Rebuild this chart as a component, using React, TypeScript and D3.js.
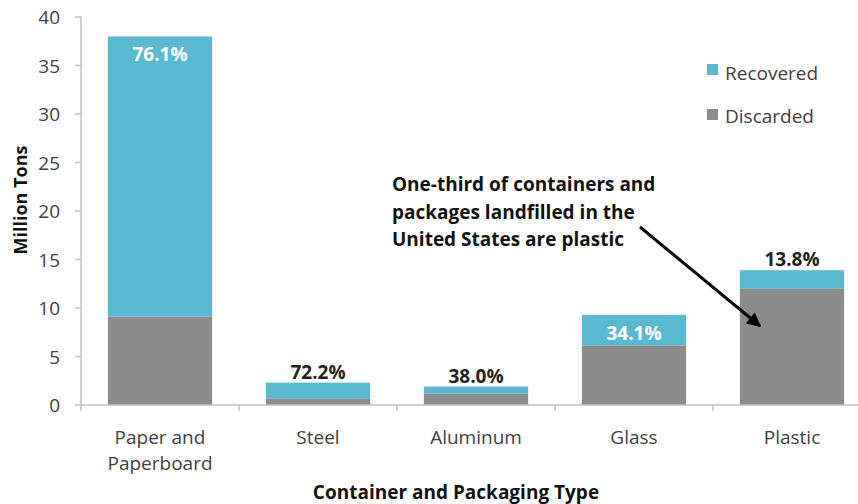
import React from "react";
import * as d3 from "d3";

const categories = ["Paper and\nPaperboard", "Steel", "Aluminum", "Glass", "Plastic"];
const discarded = [9.1, 0.64, 1.18, 6.13, 11.98];
const recovered = [28.9, 1.66, 0.72, 3.17, 1.92];
const pctLabels = ["76.1%", "72.2%", "38.0%", "34.1%", "13.8%"];
const labelInside = [true, false, false, true, false];
const yTicks = [0, 5, 10, 15, 20, 25, 30, 35, 40];
const seriesNames = ["Recovered", "Discarded"];
const annotationLines = [
  "One-third of containers and",
  "packages landfilled in the",
  "United States are plastic",
];

const W = 858;
const H = 504;
const FONT = "'Open Sans', sans-serif";
const BLUE = "#5bb8d1";
const GRAY = "#8c8c8c";
const AXIS = "#bfbfbf";
const TEXT = "#404040";
const FS = 19;

export default function App() {
  const x = d3.scaleBand<number>().domain(d3.range(categories.length)).range([81, 871]).paddingInner(0).paddingOuter(0);
  const y = d3.scaleLinear().domain([0, 40]).range([405, 17]);
  const barW = x.bandwidth() * 0.66;
  const stack = d3.stack<number>().keys(["d", "r"]).value((i, k) => (k === "d" ? discarded[i] : recovered[i]));
  const series = stack(d3.range(categories.length));
  const colors: Record<string, string> = { d: GRAY, r: BLUE };
  const boundaries = d3.range(categories.length + 1).map((i) => 81 + i * x.step());

  return (
    <svg width={W} height={H} style={{ position: "absolute", left: 0, top: 0, background: "#fff" }} fontFamily={FONT}>
      <defs>
        <marker id="ah" viewBox="0 0 10 10" refX="9" refY="5" markerWidth="16" markerHeight="14" markerUnits="userSpaceOnUse" orient="auto">
          <path d="M0,0 L10,5 L0,10 z" fill="#000" />
        </marker>
      </defs>
      {series.map((s) =>
        s.map((d, i) => (
          <rect
            key={s.key + i}
            x={(x(i) as number) + (x.bandwidth() - barW) / 2}
            y={y(d[1])}
            width={barW}
            height={y(d[0]) - y(d[1])}
            fill={colors[s.key]}
          />
        ))
      )}
      {pctLabels.map((p, i) => {
        const total = discarded[i] + recovered[i];
        const cx = (x(i) as number) + x.bandwidth() / 2;
        const inside = labelInside[i];
        return (
          <text
            key={p}
            x={cx}
            y={inside ? y(total) + 25 : y(total) - 4}
            textAnchor="middle"
            fontSize={FS}
            fontWeight="bold"
            fill={inside ? "#fff" : "#222"}
          >
            {p}
          </text>
        );
      })}
      <line x1={81} x2={81} y1={y(40)} y2={y(0)} stroke={AXIS} strokeWidth={1.5} />
      {yTicks.map((t) => (
        <g key={t}>
          <line x1={75} x2={81} y1={y(t)} y2={y(t)} stroke={AXIS} strokeWidth={1.5} />
          <text x={60} y={y(t) + 7} textAnchor="end" fontSize={FS} fill={TEXT}>
            {t}
          </text>
        </g>
      ))}
      <line x1={81} x2={W} y1={y(0)} y2={y(0)} stroke={AXIS} strokeWidth={1.5} />
      {boundaries.map((b, i) => (
        <line key={i} x1={b} x2={b} y1={y(0)} y2={y(0) + 6} stroke={AXIS} strokeWidth={1.5} />
      ))}
      {categories.map((c, i) => (
        <text key={c} x={(x(i) as number) + x.bandwidth() / 2} y={444} textAnchor="middle" fontSize={FS} fill={TEXT}>
          {c.split("\n").map((ln, j) => (
            <tspan key={j} x={(x(i) as number) + x.bandwidth() / 2} dy={j === 0 ? 0 : 26}>
              {ln}
            </tspan>
          ))}
        </text>
      ))}
      <text x={456} y={499} textAnchor="middle" fontSize={FS} fontWeight="bold" fill="#111">
        Container and Packaging Type
      </text>
      <text transform={`translate(27,200) rotate(-90)`} textAnchor="middle" fontSize={18} fontWeight="bold" fill="#111">
        Million Tons
      </text>
      {seriesNames.map((n, i) => (
        <g key={n}>
          <rect x={707} y={64 + i * 45} width={11} height={11} fill={i === 0 ? BLUE : GRAY} />
          <text x={725} y={80 + i * 43} fontSize={FS} fill={TEXT}>
            {n}
          </text>
        </g>
      ))}
      {annotationLines.map((l, i) => (
        <text key={l} x={392} y={191 + i * 27.5} fontSize={FS} fontWeight="bold" fill="#111">
          {l}
        </text>
      ))}
      <line x1={640} y1={227} x2={760} y2={326} stroke="#000" strokeWidth={3} markerEnd="url(#ah)" />
    </svg>
  );
}
